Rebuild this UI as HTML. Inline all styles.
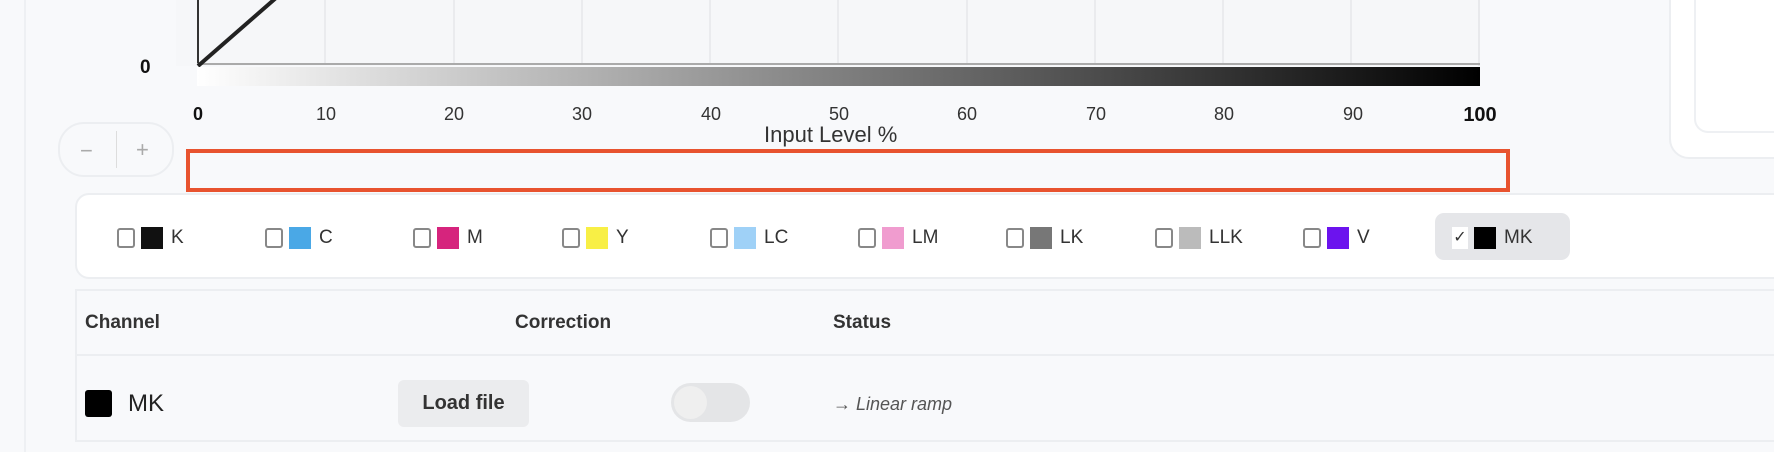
<!DOCTYPE html>
<html><head><meta charset="utf-8"><style>
*{box-sizing:border-box;margin:0;padding:0}
body{width:1774px;height:452px;background:#f8f9fb;position:relative;overflow:hidden;font-family:"Liberation Sans",sans-serif;color:#222}
.a{position:absolute}
.tick{position:absolute;top:104px;font-size:18px;color:#333;transform:translateX(-50%)}
.item{position:absolute;top:226px;height:24px;display:flex;align-items:center;font-size:19px;color:#333}
.cb{width:18px;height:20px;border:2.5px solid #888;border-radius:3px;background:#fff;margin-right:6px}
.sw{width:22px;height:22px;margin-right:8px}
</style></head><body>
<div class="a" style="left:24px;top:0;width:2px;height:452px;background:#eef0f3"></div>
<div class="a" style="left:176px;top:0;width:1304px;height:66px;background:#f6f7f9;border-right:2px solid #e8e9ec"></div>
<div class="a" style="left:197px;top:0;width:2px;height:64px;background:#333"></div>
<svg class="a" style="left:0;top:0" width="1774" height="100">
<g stroke="#e6e7ea" stroke-width="1.5">
<line x1="325" y1="0" x2="325" y2="64"/><line x1="454" y1="0" x2="454" y2="64"/><line x1="582" y1="0" x2="582" y2="64"/><line x1="710" y1="0" x2="710" y2="64"/><line x1="838" y1="0" x2="838" y2="64"/><line x1="967" y1="0" x2="967" y2="64"/><line x1="1095" y1="0" x2="1095" y2="64"/><line x1="1223" y1="0" x2="1223" y2="64"/><line x1="1351" y1="0" x2="1351" y2="64"/>
</g>
<line x1="197" y1="64" x2="1480" y2="64" stroke="#aaa" stroke-width="2"/>
<line x1="198" y1="66" x2="300" y2="-23" stroke="#222" stroke-width="4"/>
<defs><linearGradient id="g"><stop offset="0" stop-color="#fff"/><stop offset="1" stop-color="#000"/></linearGradient></defs>
<rect x="197" y="67" width="1283" height="19" fill="url(#g)"/>
</svg>
<div class="a" style="left:140px;top:57px;font-size:19px;font-weight:bold;color:#111">0</div>
<div class="tick" style="left:198px;font-weight:bold;color:#111">0</div>
<div class="tick" style="left:326px">10</div>
<div class="tick" style="left:454px">20</div>
<div class="tick" style="left:582px">30</div>
<div class="tick" style="left:711px">40</div>
<div class="tick" style="left:839px">50</div>
<div class="tick" style="left:967px">60</div>
<div class="tick" style="left:1096px">70</div>
<div class="tick" style="left:1224px">80</div>
<div class="tick" style="left:1353px">90</div>
<div class="tick" style="left:1480px;font-weight:bold;color:#111;font-size:20px">100</div>
<div class="a" style="left:764px;top:122px;font-size:22px;color:#333">Input Level %</div>
<div class="a" style="left:58px;top:122px;width:116px;height:55px;border:2px solid #eceef1;border-radius:26px;background:#f8f9fb"></div>
<div class="a" style="left:116px;top:131px;width:1px;height:37px;background:#ddd"></div>
<div class="a" style="left:80px;top:138px;font-size:22px;color:#aaa">−</div>
<div class="a" style="left:136px;top:137px;font-size:22px;color:#aaa">+</div>
<div class="a" style="left:186px;top:149px;width:1324px;height:43px;border:4px solid #e8532f"></div>
<div class="a" style="left:1669px;top:-20px;width:140px;height:179px;background:#fff;border:2px solid #eceef1;border-radius:20px"></div>
<div class="a" style="left:1694px;top:-20px;width:120px;height:153px;background:#fff;border:2px solid #eef0f3;border-radius:14px"></div>
<div class="a" style="left:75px;top:193px;width:1740px;height:86px;background:#fff;border:2px solid #eceef1;border-radius:14px"></div>
<div class="item" style="left:117px"><div class="cb"></div><div class="sw" style="background:#111"></div>K</div>
<div class="item" style="left:265px"><div class="cb"></div><div class="sw" style="background:#4aa8e6"></div>C</div>
<div class="item" style="left:413px"><div class="cb"></div><div class="sw" style="background:#d6247d"></div>M</div>
<div class="item" style="left:562px"><div class="cb"></div><div class="sw" style="background:#f8ef45"></div>Y</div>
<div class="item" style="left:710px"><div class="cb"></div><div class="sw" style="background:#9fd1f7"></div>LC</div>
<div class="item" style="left:858px"><div class="cb"></div><div class="sw" style="background:#f09ccf"></div>LM</div>
<div class="item" style="left:1006px"><div class="cb"></div><div class="sw" style="background:#777"></div>LK</div>
<div class="item" style="left:1155px"><div class="cb"></div><div class="sw" style="background:#bbb"></div>LLK</div>
<div class="item" style="left:1303px"><div class="cb"></div><div class="sw" style="background:#6c13ee"></div>V</div>
<div class="a" style="left:1435px;top:213px;width:135px;height:47px;background:#e5e6e9;border-radius:9px"></div>
<div class="item" style="left:1452px"><div style="width:16px;height:22px;background:#fff;margin-right:6px;font-size:16px;text-align:center;line-height:22px">✓</div><div class="sw" style="background:#000"></div>MK</div>
<div class="a" style="left:75px;top:289px;width:1740px;height:153px;border:2px solid #eceef1;background:#f8f9fb"></div>
<div class="a" style="left:75px;top:354px;width:1740px;height:2px;background:#eceef1"></div>
<div class="a" style="left:85px;top:312px;font-size:19px;font-weight:bold;color:#333">Channel</div>
<div class="a" style="left:515px;top:312px;font-size:19px;font-weight:bold;color:#333">Correction</div>
<div class="a" style="left:833px;top:312px;font-size:19px;font-weight:bold;color:#333">Status</div>
<div class="a" style="left:85px;top:390px;width:27px;height:27px;background:#000;border-radius:3px"></div>
<div class="a" style="left:128px;top:390px;font-size:24px;color:#222">MK</div>
<div class="a" style="left:398px;top:380px;width:131px;height:47px;background:#ebecee;border-radius:6px;font-size:20px;font-weight:bold;color:#333;text-align:center;line-height:47px">Load file</div>
<div class="a" style="left:671px;top:383px;width:79px;height:39px;background:#e4e5e7;border-radius:20px"></div>
<div class="a" style="left:674px;top:386px;width:33px;height:33px;background:#efefef;border-radius:50%"></div>
<div class="a" style="left:833px;top:394px;font-size:18px;font-style:italic;color:#555">→ Linear ramp</div>
</body></html>
